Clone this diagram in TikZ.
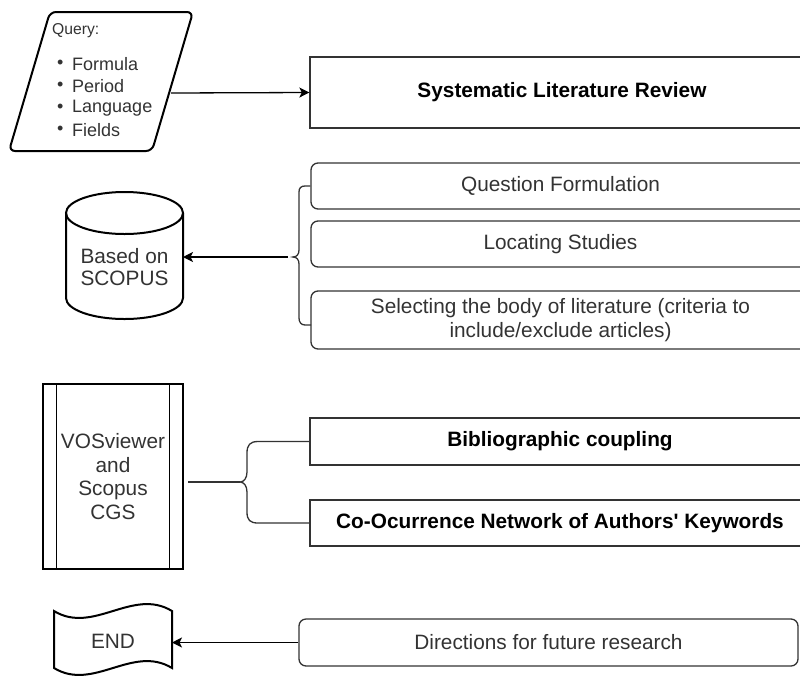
\documentclass[tikz,border=0pt]{standalone}
\usepackage{fontspec}
\setmainfont{Liberation Sans}
\usetikzlibrary{arrows.meta}
\definecolor{txt}{HTML}{333333}
\definecolor{ln}{HTML}{333333}
\begin{document}
\begin{tikzpicture}[x=1pt,y=-1pt,
  box/.style={draw=ln, line width=1.3pt, inner sep=0pt, text=txt, align=center,
    font=\fontsize{20.8}{24}\selectfont},
  rbox/.style={box, rounded corners=7pt},
  bbox/.style={box, text=black, font=\fontsize{20.8}{24}\selectfont\bfseries},
  heavy/.style={draw=black, line width=2pt},
  thin/.style={draw=ln, line width=1.3pt},
  arr/.style={draw=black, line width=1.3pt, -{Stealth[length=10pt,width=10pt,inset=2.5pt]}},
  qtxt/.style={inner sep=0pt, text=txt, anchor=west, font=\fontsize{18}{21}\selectfont},
  lbl/.style={inner sep=0pt, text=txt, align=center}
]
\useasboundingbox (0,0) rectangle (800,678);
\fill[white] (0,0) rectangle (800,678);

% Query parallelogram
\draw[heavy, rounded corners=6pt] (50,12) -- (193,12) -- (152,151) -- (9,151) -- cycle;
\node[inner sep=0pt, text=txt, anchor=west, font=\fontsize{15.7}{18}\selectfont] (qy) at (52,31) {Query:};
\node[qtxt] (b1) at (57,64) {\textbullet};
\node[qtxt] (b2) at (57,86) {\textbullet};
\node[qtxt] (b3) at (57,108) {\textbullet};
\node[qtxt] (b4) at (57,130) {\textbullet};
\node[qtxt] (f1) at (72,64) {Formula};
\node[qtxt] (f2) at (72,86) {Period};
\node[qtxt] (f3) at (72,108) {Language};
\node[qtxt] (f4) at (72,130) {Fields};
\coordinate (qr) at (171,93);

% Systematic Literature Review
\node[bbox, minimum width=504pt, minimum height=71pt] (slr) at (562,92.5) {Systematic Literature Review};
\draw[arr] (qr) -- (slr.west);

% SLR steps
\node[rbox, minimum width=499pt, minimum height=46pt] (qf) at (560.5,186) {Question Formulation};
\node[rbox, minimum width=499pt, minimum height=46pt] (ls) at (560.5,244) {Locating Studies};
\node[rbox, minimum width=499pt, minimum height=58pt] (sb) at (560.5,320) {Selecting the body of literature (criteria to\\include/exclude articles)};

% cylinder
\draw[heavy] (66,213) -- (66,298) arc[start angle=180, end angle=360, x radius=58.5pt, y radius=21pt] -- (183,213);
\draw[heavy] (124.5,213) ellipse [x radius=58.5pt, y radius=21pt];
\node[lbl, font=\fontsize{20.8}{22}\selectfont] (db) at (124.5,267) {Based on\\SCOPUS};
\coordinate (dbR) at (183,257);

% brace 1
\draw[thin] (qf.west) -- (305,186) .. controls (301,186) and (299,188) .. (299,192) -- (299,250)
  .. controls (299,254) and (297,257) .. (293,257)
  .. controls (297,257) and (299,260) .. (299,264) -- (299,318)
  .. controls (299,322) and (301,325) .. (305,325) -- (311,325);
\coordinate (bt1) at (288,257);
\draw[arr] (bt1) -- (dbR);

% VOSviewer process box
\node[box, draw=black, line width=1.3pt, minimum width=140pt, minimum height=185pt, font=\fontsize{20.8}{23.4}\selectfont] (vos) at (113,476.5) {VOSviewer\\and\\Scopus\\CGS};
\draw[draw=black, line width=1.3pt] ([xshift=14pt]vos.north west) -- ([xshift=14pt]vos.south west);
\draw[draw=black, line width=1.3pt] ([xshift=-14pt]vos.north east) -- ([xshift=-14pt]vos.south east);

\node[bbox, minimum width=500pt, minimum height=47pt] (bc) at (560,441.5) {Bibliographic coupling};
\node[bbox, minimum width=500pt, minimum height=46pt] (co) at (560,523) {Co-Ocurrence Network of Authors\textquotesingle{} Keywords};

% brace 2
\draw[thin] (bc.west) -- (258,441.5) .. controls (250,441.5) and (247,445) .. (247,453) -- (247,472)
  .. controls (247,478) and (244,482) .. (240,482)
  .. controls (244,482) and (247,486) .. (247,492) -- (247,512)
  .. controls (247,520) and (250,523) .. (258,523) -- (co.west);
\coordinate (vr) at (188,482);
\coordinate (bt2) at (240,482);
\draw[thin] (vr) -- (bt2);

% END tape
\draw[heavy] (54,611) .. controls (93.3,635) and (132.7,587) .. (172,611) -- (172,668)
  .. controls (132.7,644) and (93.3,692) .. (54,668) -- cycle;
\node[lbl, font=\fontsize{20.8}{24}\selectfont] (end) at (113,641) {END};
\coordinate (endR) at (172,642.5);

\node[rbox, minimum width=499pt, minimum height=47pt] (dr) at (548.5,642.5) {Directions for future research};
\draw[arr] (dr.west) -- (endR);
\end{tikzpicture}
\end{document}
